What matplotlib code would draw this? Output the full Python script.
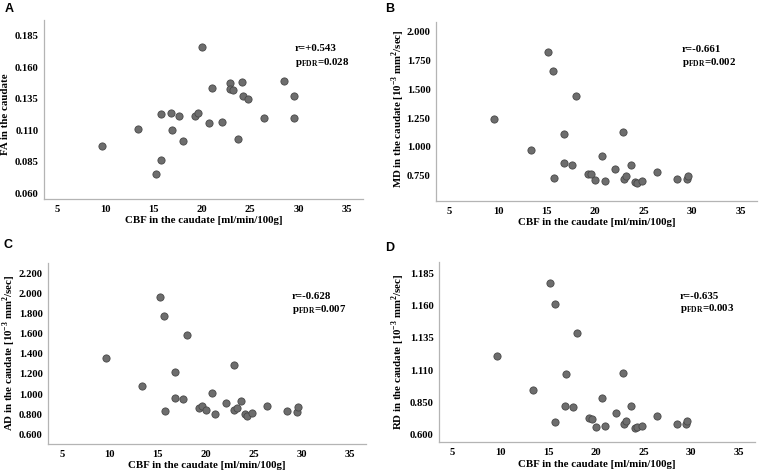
import matplotlib
matplotlib.use('Agg')
import matplotlib.pyplot as plt

plt.rcParams['font.family'] = ['Liberation Serif', 'DejaVu Serif']
plt.rcParams['mathtext.fontset'] = 'custom'
plt.rcParams['mathtext.rm'] = 'Liberation Serif'
plt.rcParams['mathtext.bf'] = 'Liberation Serif:bold'

# CBF in the caudate (shared x for all panels)
cbf = [9.6, 13.4, 15.2, 15.7, 15.75, 16.75, 16.85, 17.6, 18.05, 19.28, 19.63, 20.0, 20.67,
       21.0, 22.1, 22.9, 22.95, 23.22, 23.68, 24.1, 24.3, 24.8, 26.4, 28.5, 29.5, 29.58]

fa = [0.0975, 0.1113, 0.075, 0.0862, 0.1229, 0.1234, 0.1105, 0.1213, 0.1012, 0.121, 0.1237,
      0.1763, 0.1158, 0.1438, 0.1163, 0.1475, 0.143, 0.1422, 0.1031, 0.1485, 0.1372, 0.1345,
      0.1194, 0.1493, 0.120, 0.1369]

md = [1.245, 0.976, 1.8235, 1.659, 0.733, 0.863, 1.109, 0.845, 1.442, 0.764, 0.762, 0.709,
      0.918, 0.704, 0.808, 1.129, 0.724, 0.750, 0.845, 0.695, 0.689, 0.700, 0.779, 0.718,
      0.721, 0.747]

ad = [1.355, 1.077, 1.962, 1.776, 0.835, 0.964, 1.223, 0.948, 1.587, 0.858, 0.878, 0.839,
      1.014, 0.802, 0.911, 1.286, 0.842, 0.865, 0.935, 0.802, 0.782, 0.809, 0.882, 0.835,
      0.819, 0.872]

# RD plotted on the axis as printed (ticks evenly spaced, labels as in the figure)
rd = [1.1207, 1.0945, 1.1775, 1.1614, 1.0696, 1.0818, 1.1072, 1.081, 1.139, 1.073, 1.0722,
      1.0654, 1.0885, 1.0665, 1.0769, 1.1075, 1.0678, 1.0704, 1.0821, 1.0652, 1.0655, 1.0665,
      1.0745, 1.0678, 1.0683, 1.070]

x_ticks = [5, 10, 15, 20, 25, 30, 35]
fa_ticks = [0.060, 0.085, 0.110, 0.135, 0.160, 0.185]
md_ticks = [0.750, 1.000, 1.250, 1.500, 1.750, 2.000]
ad_ticks = [0.600, 0.800, 1.000, 1.200, 1.400, 1.600, 1.800, 2.000, 2.200]
rd_ticks = [1.060, 1.085, 1.110, 1.135, 1.160, 1.185]
rd_ticklabels = ['0.600', '0.850', '1.110', '1.135', '1.160', '1.185']

unit = r' in the caudate [10$^{\mathbf{-3}}$ mm$^{\mathbf{2}}$/sec]'

W, H = 760, 471

# letter, y values, ticks, tick labels, ylim, ylabel, r, p, axes box (px: left, top, right, bottom),
# ylabel centre (px), annotation (x frac, line1 y frac, line2 y frac), letter pos (px)
panels = [
    ('A', fa, fa_ticks, None, (0.0555, 0.1975), 'FA in the caudate', 'r=+0.543', '0.028',
     (44, 20, 363, 199), (6, 114), (0.787, 0.842, 0.761), (5, 3)),
    ('B', md, md_ticks, None, (0.53, 2.087), 'MD' + unit, 'r=-0.661', '0.002',
     (436, 21.7, 757, 201), (398, 109), (0.766, 0.846, 0.771), (385, 3)),
    ('C', ad, ad_ticks, None, (0.504, 2.30), 'AD' + unit, 'r=-0.628', '0.007',
     (48.3, 263.3, 366, 444), (9, 353), (0.767, 0.819, 0.747), (3, 239)),
    ('D', rd, rd_ticks, rd_ticklabels, (1.0538, 1.1943), 'RD' + unit, 'r=-0.635', '0.003',
     (439.3, 261.7, 755, 442.3), (398, 352), (0.762, 0.81, 0.742), (385, 242)),
]

fig = plt.figure(figsize=(W / 100, H / 100), dpi=100)

for letter, yv, yt, ytl, ylim, ylabel, rtxt, ptxt, box, ylab_xy, ann, let_xy in panels:
    l, t, r, b = box
    ax = fig.add_axes([l / W, 1 - b / H, (r - l) / W, (b - t) / H])
    ax.scatter(cbf, yv, s=27, c='#6d6d6d', edgecolors='#484848', linewidths=0.6, zorder=3)
    ax.set_xlim(3.6, 36.7)
    ax.set_ylim(*ylim)
    ax.set_xticks(x_ticks)
    ax.set_yticks(yt)
    if ytl is None:
        ax.set_yticklabels(['%.3f' % v for v in yt])
    else:
        ax.set_yticklabels(ytl)
    for s in ['top', 'right']:
        ax.spines[s].set_visible(False)
    for s in ['left', 'bottom']:
        ax.spines[s].set_color('#b4b4b4')
        ax.spines[s].set_linewidth(0.9)
    ax.tick_params(length=0, pad=4, labelsize=7.6)
    for lab in ax.get_xticklabels() + ax.get_yticklabels():
        lab.set_fontweight('bold')
    ax.set_xlabel('CBF in the caudate [ml/min/100g]', fontsize=7.8, fontweight='bold', labelpad=2)
    ax.set_ylabel(ylabel, fontsize=7.8, fontweight='bold', va='center')
    ax.yaxis.set_label_coords(ylab_xy[0] / W, 1 - ylab_xy[1] / H, transform=fig.transFigure)
    ax.text(ann[0], ann[1], rtxt, transform=ax.transAxes, fontsize=7.8, fontweight='bold',
            va='center')
    ax.text(ann[0], ann[2], r'p$_{\mathbf{FDR}}$=' + ptxt, transform=ax.transAxes,
            fontsize=7.8, fontweight='bold', va='center')
    fig.text(let_xy[0] / W, 1 - let_xy[1] / H, letter, fontsize=9, fontweight='bold',
             family='Liberation Sans', va='top')

fig.savefig('out.png', dpi=100, facecolor='white')
